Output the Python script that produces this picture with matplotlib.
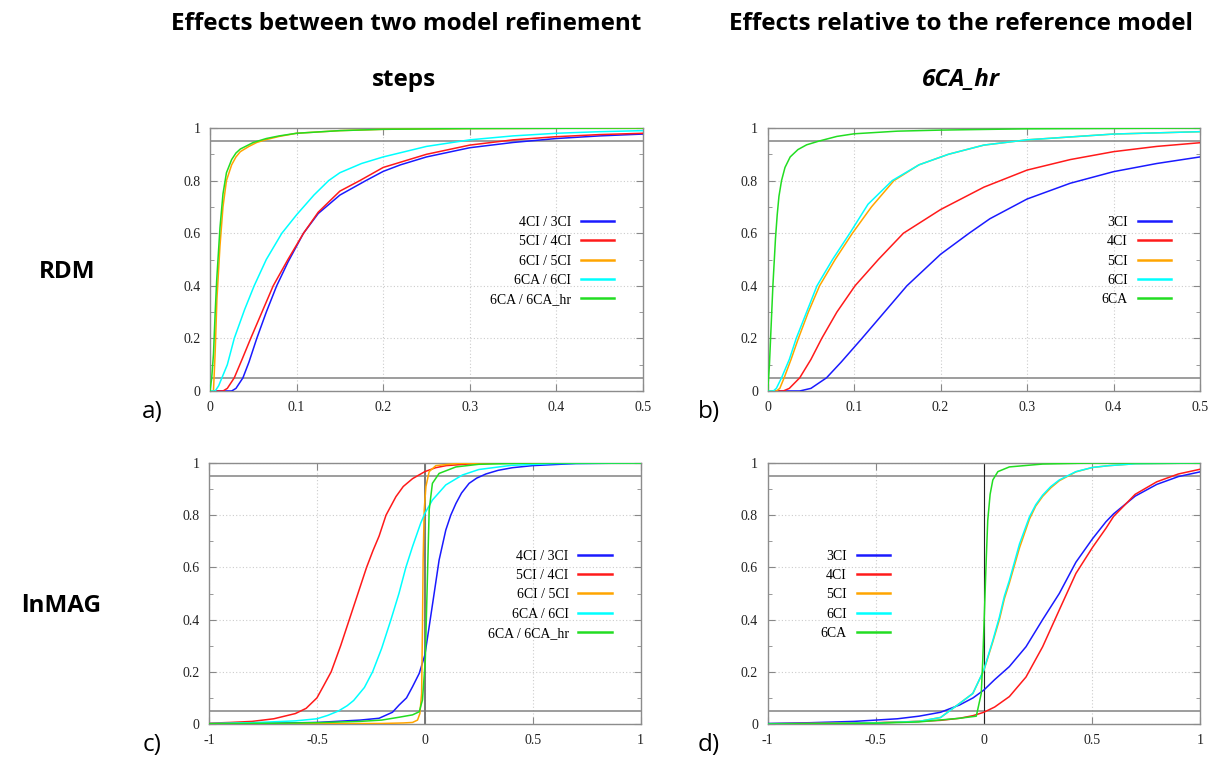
import matplotlib
matplotlib.use("Agg")
import matplotlib.pyplot as plt
from matplotlib.ticker import MultipleLocator, FuncFormatter

# ---- data (cumulative fractions) ----
# panel a: effects between two refinement steps, RDM
a_4ci_3ci_x = [0, 0.02, 0.025, 0.03, 0.038, 0.045, 0.054, 0.065, 0.077, 0.09, 0.108, 0.125, 0.15, 0.18, 0.2, 0.22, 0.25, 0.3, 0.35, 0.4, 0.45, 0.5]
a_4ci_3ci_y = [0, 0, 0.0, 0.01, 0.05, 0.11, 0.2, 0.3, 0.4, 0.49, 0.6, 0.675, 0.745, 0.8, 0.835, 0.86, 0.89, 0.925, 0.945, 0.96, 0.97, 0.977]
a_5ci_4ci_x = [0, 0.015, 0.02, 0.028, 0.037, 0.047, 0.06, 0.073, 0.09, 0.108, 0.125, 0.15, 0.173, 0.2, 0.25, 0.3, 0.35, 0.4, 0.45, 0.5]
a_5ci_4ci_y = [0, 0, 0.01, 0.05, 0.12, 0.2, 0.3, 0.4, 0.5, 0.6, 0.68, 0.76, 0.8, 0.85, 0.9, 0.935, 0.955, 0.967, 0.975, 0.98]
a_6ci_5ci_x = [0, 0.004, 0.006, 0.008, 0.0115, 0.015, 0.019, 0.025, 0.03, 0.035, 0.045, 0.054, 0.065, 0.08, 0.1, 0.15, 0.2, 0.3, 0.4, 0.5]
a_6ci_5ci_y = [0, 0, 0.15, 0.35, 0.55, 0.7, 0.8, 0.86, 0.89, 0.91, 0.93, 0.945, 0.956, 0.968, 0.98, 0.99, 0.995, 0.998, 0.999, 1.0]
a_6ca_6ci_x = [0, 0.006, 0.01, 0.02, 0.028, 0.04, 0.051, 0.065, 0.083, 0.1, 0.12, 0.137, 0.15, 0.175, 0.2, 0.25, 0.3, 0.35, 0.4, 0.45, 0.5]
a_6ca_6ci_y = [0, 0, 0.02, 0.1, 0.2, 0.31, 0.4, 0.5, 0.6, 0.67, 0.745, 0.8, 0.83, 0.865, 0.89, 0.93, 0.955, 0.97, 0.98, 0.986, 0.99]
a_6ca_hr_x = [0, 0.002, 0.004, 0.006, 0.0077, 0.0115, 0.015, 0.019, 0.025, 0.03, 0.035, 0.05, 0.065, 0.08, 0.1, 0.15, 0.2, 0.3, 0.4, 0.5]
a_6ca_hr_y = [0, 0.05, 0.14, 0.3, 0.42, 0.62, 0.75, 0.83, 0.88, 0.905, 0.92, 0.945, 0.96, 0.97, 0.98, 0.99, 0.995, 0.998, 0.999, 1.0]

# panel b: relative to reference model 6CA_hr, RDM
b_3ci_x = [0, 0.037, 0.05, 0.068, 0.085, 0.109, 0.135, 0.161, 0.2, 0.233, 0.257, 0.3, 0.35, 0.4, 0.45, 0.5]
b_3ci_y = [0, 0, 0.01, 0.05, 0.11, 0.2, 0.3, 0.4, 0.52, 0.6, 0.655, 0.73, 0.79, 0.834, 0.865, 0.89]
b_4ci_x = [0, 0.018, 0.025, 0.037, 0.05, 0.0625, 0.08, 0.101, 0.128, 0.157, 0.2, 0.25, 0.3, 0.35, 0.4, 0.45, 0.5]
b_4ci_y = [0, 0, 0.01, 0.05, 0.12, 0.2, 0.3, 0.4, 0.5, 0.6, 0.69, 0.775, 0.84, 0.88, 0.91, 0.93, 0.944]
b_5ci_x = [0, 0.01, 0.014, 0.019, 0.027, 0.0355, 0.047, 0.06, 0.078, 0.098, 0.12, 0.146, 0.175, 0.209, 0.25, 0.3, 0.4, 0.5]
b_5ci_y = [0, 0, 0.01, 0.05, 0.12, 0.2, 0.3, 0.4, 0.5, 0.6, 0.7, 0.8, 0.86, 0.9, 0.935, 0.955, 0.977, 0.986]
b_6ci_x = [0, 0.0065, 0.01, 0.016, 0.025, 0.033, 0.045, 0.057, 0.075, 0.095, 0.116, 0.144, 0.175, 0.209, 0.25, 0.3, 0.4, 0.5]
b_6ci_y = [0, 0, 0.01, 0.05, 0.12, 0.2, 0.3, 0.4, 0.5, 0.6, 0.71, 0.8, 0.86, 0.9, 0.935, 0.955, 0.977, 0.986]
b_6ca_x = [0, 0.002, 0.004, 0.006, 0.009, 0.011, 0.013, 0.016, 0.02, 0.026, 0.035, 0.045, 0.059, 0.08, 0.1, 0.15, 0.2, 0.3, 0.5]
b_6ca_y = [0, 0.1, 0.25, 0.4, 0.58, 0.67, 0.74, 0.8, 0.85, 0.89, 0.918, 0.936, 0.95, 0.968, 0.978, 0.988, 0.992, 0.997, 1.0]

# panel c: effects between two refinement steps, lnMAG
c_4ci_3ci_x = [-1, -0.7, -0.5, -0.3, -0.212, -0.15, -0.119, -0.085, -0.057, -0.026, 0, 0.02, 0.043, 0.066, 0.097, 0.12, 0.144, 0.17, 0.205, 0.24, 0.283, 0.34, 0.406, 0.5, 0.7, 1]
c_4ci_3ci_y = [0.001, 0.003, 0.006, 0.015, 0.022, 0.045, 0.073, 0.1, 0.143, 0.194, 0.264, 0.373, 0.5, 0.628, 0.743, 0.8, 0.845, 0.885, 0.922, 0.942, 0.958, 0.972, 0.982, 0.99, 0.998, 1.0]
c_5ci_4ci_x = [-1, -0.9, -0.8, -0.7, -0.6, -0.55, -0.5, -0.47, -0.434, -0.39, -0.35, -0.31, -0.27, -0.24, -0.212, -0.18, -0.134, -0.1, -0.057, 0, 0.05, 0.1, 0.2, 0.3, 0.5, 1]
c_5ci_4ci_y = [0.003, 0.006, 0.01, 0.02, 0.04, 0.06, 0.1, 0.145, 0.2, 0.3, 0.4, 0.5, 0.6, 0.665, 0.72, 0.8, 0.871, 0.91, 0.94, 0.967, 0.982, 0.99, 0.996, 0.999, 1.0, 1.0]
c_6ci_5ci_x = [-1, -0.5, -0.2, -0.1, -0.057, -0.034, -0.023, -0.015, -0.011, -0.008, -0.003, 0.005, 0.02, 0.051, 0.097, 0.15, 0.3, 1]
c_6ci_5ci_y = [0, 0.001, 0.002, 0.004, 0.006, 0.015, 0.04, 0.117, 0.373, 0.628, 0.82, 0.91, 0.967, 0.99, 0.994, 0.998, 1.0, 1.0]
c_6ca_6ci_x = [-1, -0.8, -0.6, -0.5, -0.45, -0.4, -0.36, -0.33, -0.28, -0.242, -0.2, -0.157, -0.12, -0.088, -0.057, -0.019, 0, 0.035, 0.097, 0.174, 0.25, 0.4, 0.6, 1]
c_6ca_6ci_y = [0.002, 0.005, 0.012, 0.02, 0.033, 0.05, 0.07, 0.09, 0.14, 0.2, 0.29, 0.4, 0.5, 0.6, 0.68, 0.77, 0.807, 0.858, 0.916, 0.954, 0.975, 0.991, 0.998, 1.0]
c_6ca_hr_x = [-1, -0.7, -0.5, -0.3, -0.2, -0.119, -0.057, -0.026, -0.011, 0.002, 0.008, 0.014, 0.02, 0.035, 0.066, 0.144, 0.25, 0.5, 1]
c_6ca_hr_y = [0.001, 0.003, 0.005, 0.01, 0.015, 0.026, 0.035, 0.047, 0.092, 0.245, 0.437, 0.628, 0.82, 0.922, 0.96, 0.985, 0.995, 1.0, 1.0]

# panel d: relative to reference model 6CA_hr, lnMAG
d_3ci_x = [-1, -0.8, -0.6, -0.5, -0.4, -0.3, -0.2, -0.112, -0.05, 0, 0.05, 0.118, 0.195, 0.272, 0.349, 0.426, 0.503, 0.565, 0.6, 0.7, 0.8, 0.9, 1.0]
d_3ci_y = [0.002, 0.005, 0.01, 0.015, 0.02, 0.03, 0.045, 0.073, 0.1, 0.13, 0.17, 0.22, 0.296, 0.40, 0.50, 0.62, 0.71, 0.775, 0.805, 0.873, 0.918, 0.948, 0.966]
d_4ci_x = [-1, -0.7, -0.5, -0.3, -0.2, -0.112, -0.05, 0, 0.05, 0.118, 0.195, 0.272, 0.349, 0.426, 0.503, 0.565, 0.6, 0.7, 0.8, 0.9, 1.0]
d_4ci_y = [0.001, 0.003, 0.005, 0.01, 0.014, 0.022, 0.032, 0.045, 0.065, 0.105, 0.18, 0.296, 0.437, 0.577, 0.677, 0.75, 0.795, 0.88, 0.928, 0.958, 0.976]
d_5ci_x = [-1, -0.7, -0.5, -0.3, -0.2, -0.112, -0.051, 0, 0.0415, 0.072, 0.095, 0.118, 0.165, 0.211, 0.24, 0.272, 0.31, 0.349, 0.426, 0.503, 0.58, 0.7, 1.0]
d_5ci_y = [0.001, 0.002, 0.004, 0.01, 0.025, 0.079, 0.117, 0.205, 0.315, 0.4, 0.48, 0.54, 0.675, 0.785, 0.835, 0.872, 0.905, 0.932, 0.966, 0.983, 0.99, 0.997, 1.0]
d_6ci_x = [-1, -0.7, -0.5, -0.3, -0.2, -0.112, -0.051, 0, 0.0415, 0.072, 0.095, 0.118, 0.165, 0.211, 0.24, 0.272, 0.31, 0.349, 0.426, 0.503, 0.58, 0.7, 1.0]
d_6ci_y = [0.001, 0.002, 0.004, 0.01, 0.025, 0.079, 0.117, 0.207, 0.32, 0.41, 0.49, 0.55, 0.69, 0.794, 0.84, 0.877, 0.91, 0.935, 0.967, 0.983, 0.99, 0.997, 1.0]
d_6ca_x = [-1, -0.5, -0.3, -0.112, -0.035, -0.012, -0.005, 0.003, 0.011, 0.018, 0.029, 0.0415, 0.065, 0.118, 0.272, 0.5, 1.0]
d_6ca_y = [0.0, 0.003, 0.008, 0.022, 0.03, 0.117, 0.245, 0.437, 0.63, 0.78, 0.88, 0.935, 0.967, 0.985, 0.996, 1.0, 1.0]

step_labels = ["4CI / 3CI", "5CI / 4CI", "6CI / 5CI", "6CA / 6CI", "6CA / 6CA_hr"]
ref_labels = ["3CI", "4CI", "5CI", "6CI", "6CA"]
colors = ["#1a1aff", "#ff1a1a", "#ffa500", "#00ffff", "#22dd22"]

serif = "Liberation Serif"
head_font = ["Open Sans", "DejaVu Sans"]

fig = plt.figure(figsize=(12.16, 7.61), dpi=100)

W, H = 1216, 761
def add_ax(l, r, t, b):
    return fig.add_axes([l / W, 1 - b / H, (r - l) / W, (b - t) / H])

ax_a = add_ax(210, 643, 128, 391)
ax_b = add_ax(767.7, 1200, 128, 391)
ax_c = add_ax(209, 640.7, 463, 724)
ax_d = add_ax(767.7, 1200, 463, 724)

panels = [
    (ax_a, [(a_4ci_3ci_x, a_4ci_3ci_y), (a_5ci_4ci_x, a_5ci_4ci_y), (a_6ci_5ci_x, a_6ci_5ci_y),
            (a_6ca_6ci_x, a_6ca_6ci_y), (a_6ca_hr_x, a_6ca_hr_y)], step_labels, (0, 0.5), (0.933, 0.494), None),
    (ax_b, [(b_3ci_x, b_3ci_y), (b_4ci_x, b_4ci_y), (b_5ci_x, b_5ci_y),
            (b_6ci_x, b_6ci_y), (b_6ca_x, b_6ca_y)], ref_labels, (0, 0.5), (0.933, 0.494), None),
    (ax_c, [(c_4ci_3ci_x, c_4ci_3ci_y), (c_5ci_4ci_x, c_5ci_4ci_y), (c_6ci_5ci_x, c_6ci_5ci_y),
            (c_6ca_6ci_x, c_6ca_6ci_y), (c_6ca_hr_x, c_6ca_hr_y)], step_labels, (-1, 1), (0.933, 0.495), ("#777777", 1.4)),
    (ax_d, [(d_3ci_x, d_3ci_y), (d_4ci_x, d_4ci_y), (d_5ci_x, d_5ci_y),
            (d_6ci_x, d_6ci_y), (d_6ca_x, d_6ca_y)], ref_labels, (-1, 1), (0.283, 0.495), ("#222222", 0.8)),
]

def fmt(v, pos):
    return "%g" % round(v, 3)

for ax, curves, labels, xlim, anchor, zero_line in panels:
    for (x, y), col, lab in zip(curves, colors, labels):
        ax.plot(x, y, color=col, lw=1.1, label=lab, zorder=3)
    ax.axhline(0.95, color="#8c8c8c", lw=1.2, zorder=2)
    ax.axhline(0.05, color="#8c8c8c", lw=1.2, zorder=2)
    if zero_line:
        ax.axvline(0, color=zero_line[0], lw=zero_line[1], zorder=2)
        ax.xaxis.set_major_locator(MultipleLocator(0.5))
    else:
        ax.xaxis.set_major_locator(MultipleLocator(0.1))
    ax.set_xlim(*xlim)
    ax.set_ylim(0, 1)
    ax.yaxis.set_major_locator(MultipleLocator(0.2))
    ax.yaxis.set_minor_locator(MultipleLocator(0.1))
    ax.xaxis.set_major_formatter(FuncFormatter(fmt))
    ax.yaxis.set_major_formatter(FuncFormatter(fmt))
    ax.grid(True, which="major", color="#cccccc", ls=(0, (1, 2)), lw=0.8)
    ax.tick_params(which="both", direction="in", top=True, right=True, color="#888888",
                   labelsize=10, labelcolor="#222222")
    ax.tick_params(which="major", length=5, pad=7)
    ax.tick_params(which="minor", length=3)
    for lab in ax.get_xticklabels() + ax.get_yticklabels():
        lab.set_family(serif)
    for sp in ax.spines.values():
        sp.set_color("#8c8c8c")
        sp.set_linewidth(1.0)
    leg_handles = [plt.Line2D([], [], color=c, lw=1.8) for c in colors]
    ax.legend(leg_handles, labels, loc="center right", bbox_to_anchor=anchor, frameon=False,
              markerfirst=False, handlelength=2.4, handletextpad=0.7, labelspacing=0.45,
              borderpad=0, borderaxespad=0, prop={"family": serif, "size": 10})

# headings
fig.text(406 / W, 1 - 24 / H, "Effects between two model refinement", ha="center", va="center",
         fontsize=17.5, fontweight="bold", family=head_font)
fig.text(404 / W, 1 - 80 / H, "steps", ha="center", va="center",
         fontsize=17.5, fontweight="bold", family=head_font)
fig.text(961 / W, 1 - 24 / H, "Effects relative to the reference model", ha="center", va="center",
         fontsize=17.5, fontweight="bold", family=head_font)
fig.text(961 / W, 1 - 80 / H, "6CA_hr", ha="center", va="center",
         fontsize=17.5, fontweight="bold", style="italic", family=head_font)

fig.text(67 / W, 1 - 272 / H, "RDM", ha="center", va="center", fontsize=17.5, fontweight="bold", family=head_font)
fig.text(61 / W, 1 - 606 / H, "lnMAG", ha="center", va="center", fontsize=17.5, fontweight="bold", family=head_font)

for lbl, x, y in [("a)", 152, 412), ("b)", 709, 412), ("c)", 152, 745), ("d)", 709, 745)]:
    fig.text(x / W, 1 - y / H, lbl, ha="center", va="center", fontsize=17.5, family=head_font)

fig.savefig("out.png", dpi=100)
